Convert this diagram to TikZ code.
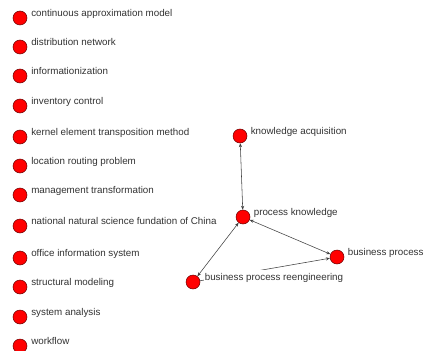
\documentclass[tikz,border=0pt]{standalone}
\usepackage{fontspec}
\setmainfont{Liberation Sans}
\usetikzlibrary{arrows.meta}
\tikzset{
  vert/.style={circle,fill=red,draw=red!40!black,line width=0.5pt,minimum size=14pt,inner sep=0pt},
  lab/.style={anchor=base west,fill=white,inner sep=0.6pt,text height=10pt,text=black!80,font=\fontsize{9.8}{10}\selectfont},
  edge/.style={draw=black!75,line width=0.55pt},
  tip/.style={-{Stealth[length=4pt,width=3.2pt]}},
  tips/.style={{Stealth[length=4pt,width=3.2pt]}-{Stealth[length=4pt,width=3.2pt]}}
}
\begin{document}
\begin{tikzpicture}[x=1pt,y=-1pt]
\useasboundingbox (0,0) rectangle (427,350);
\fill[white] (0,0) rectangle (427,350);
% left column
\node[vert] (n1) at (20,18) {};
\node[vert] (n2) at (20,47) {};
\node[vert] (n3) at (20,76) {};
\node[vert] (n4) at (20,106) {};
\node[vert] (n5) at (20,137) {};
\node[vert] (n6) at (20,166) {};
\node[vert] (n7) at (20,195) {};
\node[vert] (n8) at (20,226) {};
\node[vert] (n9) at (20,258) {};
\node[vert] (n10) at (20,287) {};
\node[vert] (n11) at (20,317) {};
\node[vert] (n12) at (20,346) {};
% right graph
\node[vert] (ka) at (240,136) {};
\node[vert] (pk) at (243,217) {};
\node[vert] (bp) at (337,257) {};
\node[vert] (bpr) at (193,282) {};
% edges
\draw[edge,tips] (ka) -- (pk);
\draw[edge,tips] (pk) -- (bpr);
\draw[edge,tips] (pk) -- (bp);
\draw[edge,tip] (bpr) -- (bp);
% labels
\node[lab] (l1) at (30.5,16.5) {continuous approximation model};
\node[lab] (l2) at (30.5,45.5) {distribution network};
\node[lab] (l3) at (30.5,74.5) {informationization};
\node[lab] (l4) at (30.5,104.5) {inventory control};
\node[lab] (l5) at (30.5,135.5) {kernel element transposition method};
\node[lab] (l6) at (30.5,164.5) {location routing problem};
\node[lab] (l7) at (30.5,193.5) {management transformation};
\node[lab] (l8) at (30.5,224.5) {national natural science fundation of China};
\node[lab] (l9) at (30.5,256.5) {office information system};
\node[lab] (l10) at (30.5,285.5) {structural modeling};
\node[lab] (l11) at (30.5,315.5) {system analysis};
\node[lab] (l12) at (30.5,344.5) {workflow};
\node[lab] (lka) at (250,134.5) {knowledge acquisition};
\node[lab] (lpk) at (253,215.5) {process knowledge};
\node[lab] (lbp) at (347,255.5) {business process};
\node[lab] (lbpr) at (204,280.5) {business process reengineering};
\end{tikzpicture}
\end{document}
